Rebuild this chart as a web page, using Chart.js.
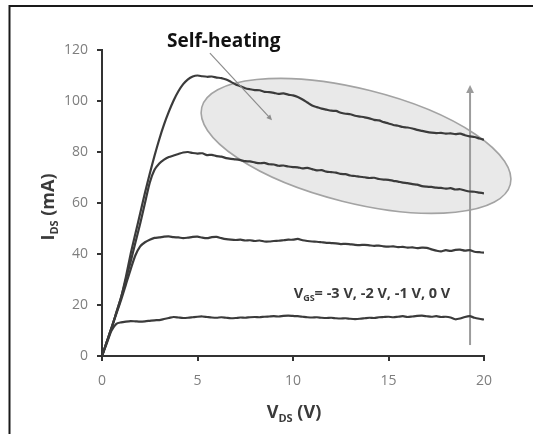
<!DOCTYPE html>
<html>
<head>
<meta charset="utf-8">
<script src="https://cdn.jsdelivr.net/npm/chart.js@4/dist/chart.umd.min.js"></script>
<style>
  body { margin: 0; background: #fff; }
  canvas { display: block; }
</style>
</head>
<body>
<canvas id="ivChart" width="533" height="434"></canvas>
<script>
// V_DS sweep (V)
const vds = [
  0, 0.25, 0.5, 0.75, 1, 1.25, 1.5, 1.75, 2, 2.25, 2.5, 2.75, 3, 3.25, 3.5, 3.75,
  4, 4.25, 4.5, 4.75, 5, 5.25, 5.5, 5.75, 6, 6.25, 6.5, 6.75, 7, 7.25, 7.5, 7.75,
  8, 8.25, 8.5, 8.75, 9, 9.25, 9.5, 9.75, 10, 10.25, 10.5, 10.75, 11, 11.25, 11.5, 11.75,
  12, 12.25, 12.5, 12.75, 13, 13.25, 13.5, 13.75, 14, 14.25, 14.5, 14.75, 15, 15.25, 15.5, 15.75,
  16, 16.25, 16.5, 16.75, 17, 17.25, 17.5, 17.75, 18, 18.25, 18.5, 18.75, 19, 19.25, 19.5, 19.75, 20,
];

// I_DS (mA) for each gate voltage
const ids0V = [
  0, 5.5, 11, 17, 23, 31, 40, 48, 56, 64, 71.5, 78.5, 85, 90.8, 95.8, 100.2,
  103.8, 106.6, 108.5, 109.6, 110, 109.7, 109.5, 109.6, 109.2, 109, 108.4, 107.5, 106.5, 105.8, 105, 104.6,
  104.3, 104.2, 103.6, 103.5, 103.2, 102.8, 103, 102.5, 102.2, 101.6, 100.6, 99.4, 98.2, 97.6, 97, 96.6,
  96.2, 96.1, 95.4, 95, 94.8, 94.2, 93.9, 93.6, 93.2, 92.6, 92.4, 91.7, 91.2, 90.6, 90.3, 89.8,
  89.6, 89.2, 88.7, 88.3, 87.9, 87.6, 87.4, 87.5, 87.2, 87.3, 87, 87.2, 86.6, 86.1, 85.9, 85.3, 84.8,
];
const idsM1V = [
  0, 5.5, 11, 17, 23, 30, 37, 44.5, 52, 60, 68, 73, 75.5, 77, 78, 78.6,
  79.2, 79.8, 80, 79.6, 79.4, 79.5, 78.8, 78.9, 78.4, 78.2, 77.6, 77.3, 77.1, 76.8, 76.4, 76.3,
  75.9, 75.6, 75.7, 75.2, 75.1, 74.6, 74.7, 74.3, 74.1, 74, 73.6, 73.8, 73.3, 72.8, 72.9, 72.3,
  72.1, 71.9, 71.4, 71.3, 70.8, 70.6, 70.3, 70.1, 69.8, 69.9, 69.4, 69.2, 69.1, 68.7, 68.4, 68,
  67.8, 67.4, 67.2, 66.6, 66.4, 66.3, 66, 65.9, 65.6, 65.8, 65.3, 65.4, 64.9, 64.5, 64.4, 64.1, 63.8,
];
const idsM2V = [
  0, 5.5, 11, 16.5, 22, 28, 34, 39.5, 43, 44.6, 45.6, 46.3, 46.5, 46.8, 46.9, 46.6,
  46.5, 46.2, 46.4, 46.7, 46.8, 46.4, 46.2, 46.6, 46.7, 46.2, 45.8, 45.6, 45.5, 45.6, 45.3, 45.4,
  45.1, 45.3, 44.9, 44.9, 45.1, 45.2, 45.4, 45.6, 45.6, 45.9, 45.4, 45.1, 44.9, 44.8, 44.6, 44.4,
  44.3, 44.2, 43.9, 44, 43.8, 43.6, 43.5, 43.6, 43.4, 43.2, 43.3, 43, 42.9, 43, 42.7, 42.8,
  42.5, 42.6, 42.3, 42.5, 42.4, 41.8, 41.3, 41, 41.5, 41.2, 41.6, 41.7, 41.3, 41.5, 40.9, 40.7, 40.5,
];
const idsM3V = [
  0, 5, 10, 12.6, 13.2, 13.5, 13.7, 13.6, 13.5, 13.6, 13.8, 14, 14.1, 14.5, 14.9, 15.3,
  15.1, 14.9, 15, 15.2, 15.4, 15.5, 15.3, 15.1, 15, 15.2, 15, 14.8, 14.9, 15.1, 15, 15.2,
  15.3, 15.2, 15.4, 15.5, 15.6, 15.5, 15.7, 15.8, 15.7, 15.6, 15.4, 15.2, 15.1, 15.2, 15, 14.9,
  15, 14.8, 14.7, 14.8, 14.6, 14.5, 14.6, 14.8, 15, 14.9, 15.2, 15.3, 15.4, 15.2, 15.4, 15.6,
  15.3, 15.5, 15.7, 15.8, 15.6, 15.4, 15.6, 15.3, 15.4, 15.1, 14.4, 14.7, 15.3, 15.6, 15, 14.6, 14.3,
];

const xTicks = [0, 5, 10, 15, 20];
const yTicks = [0, 20, 40, 60, 80, 100, 120];

const curveColor = "#3b3b3b";
const axisColor = "#333333";
const labelGray = "#7e7e7e";

function series(values) {
  return vds.map((v, i) => ({ x: v, y: values[i] }));
}

// text with subscripts: parts = [[text, isSub], ...]
function drawParts(ctx, parts, x, y, size, color, align) {
  const mainFont = "bold " + size + "px 'Open Sans'";
  const subFont = "bold " + Math.round(size * 0.62) + "px 'Open Sans'";
  let total = 0;
  parts.forEach(([t, sub]) => {
    ctx.font = sub ? subFont : mainFont;
    total += ctx.measureText(t).width;
  });
  let cx = align === "center" ? x - total / 2 : x;
  ctx.fillStyle = color;
  ctx.textBaseline = "alphabetic";
  ctx.textAlign = "left";
  parts.forEach(([t, sub]) => {
    ctx.font = sub ? subFont : mainFont;
    ctx.fillText(t, cx, sub ? y + size * 0.22 : y);
    cx += ctx.measureText(t).width;
  });
}

function arrow(ctx, x1, y1, x2, y2, color, width, head) {
  const ang = Math.atan2(y2 - y1, x2 - x1);
  ctx.save();
  ctx.strokeStyle = color;
  ctx.fillStyle = color;
  ctx.lineWidth = width;
  ctx.beginPath();
  ctx.moveTo(x1, y1);
  ctx.lineTo(x2 - Math.cos(ang) * head * 0.8, y2 - Math.sin(ang) * head * 0.8);
  ctx.stroke();
  ctx.beginPath();
  ctx.moveTo(x2, y2);
  ctx.lineTo(x2 - head * Math.cos(ang - 0.45), y2 - head * Math.sin(ang - 0.45));
  ctx.lineTo(x2 - head * Math.cos(ang + 0.45), y2 - head * Math.sin(ang + 0.45));
  ctx.closePath();
  ctx.fill();
  ctx.restore();
}

const decorations = {
  id: "decorations",
  beforeDatasetsDraw(chart) {
    const { ctx, scales: { x, y } } = chart;
    // self-heating region
    ctx.save();
    ctx.beginPath();
    ctx.ellipse(x.getPixelForValue(13.3), y.getPixelForValue(82.4), 159, 57, 14 * Math.PI / 180, 0, Math.PI * 2);
    ctx.fillStyle = "#e9e9e9";
    ctx.fill();
    ctx.lineWidth = 1.6;
    ctx.strokeStyle = "#a3a3a3";
    ctx.stroke();
    ctx.restore();
    // increasing V_GS arrow
    arrow(ctx, x.getPixelForValue(19.27), y.getPixelForValue(4.3),
      x.getPixelForValue(19.27), y.getPixelForValue(106.3), "#9c9c9c", 2, 9);
  },
  afterDatasetsDraw(chart) {
    const { ctx, scales: { x, y } } = chart;
    arrow(ctx, x.getPixelForValue(5.65), y.getPixelForValue(118.8),
      x.getPixelForValue(8.9), y.getPixelForValue(92.5), "#8c8c8c", 1.2, 6);

    ctx.save();
    ctx.font = "bold 19px 'Open Sans'";
    ctx.fillStyle = "#111";
    ctx.textAlign = "left";
    ctx.textBaseline = "alphabetic";
    ctx.fillText("Self-heating", 167, 47);
    ctx.restore();

    drawParts(ctx, [["V", false], ["GS", true], ["= -3 V, -2 V, -1 V, 0 V", false]],
      372, 298, 14.5, "#3a3a3a", "center");

    // axis titles
    drawParts(ctx, [["V", false], ["DS", true], [" (V)", false]], 294, 418, 18, "#3a3a3a", "center");
    ctx.save();
    ctx.translate(54, 207);
    ctx.rotate(-Math.PI / 2);
    drawParts(ctx, [["I", false], ["DS", true], [" (mA)", false]], 0, 0, 18, "#3a3a3a", "center");
    ctx.restore();

    // picture frame
    ctx.save();
    ctx.strokeStyle = "#1a1a1a";
    ctx.lineWidth = 2;
    ctx.beginPath();
    ctx.moveTo(9.5, 434);
    ctx.lineTo(9.5, 6);
    ctx.lineTo(533, 6);
    ctx.stroke();
    ctx.restore();
  },
};

const lineStyle = {
  borderColor: curveColor,
  borderWidth: 2.2,
  pointRadius: 0,
  tension: 0.25,
  fill: false,
};

new Chart(document.getElementById("ivChart"), {
  type: "line",
  data: {
    datasets: [
      { label: "0 V", data: series(ids0V), ...lineStyle },
      { label: "-1 V", data: series(idsM1V), ...lineStyle },
      { label: "-2 V", data: series(idsM2V), ...lineStyle },
      { label: "-3 V", data: series(idsM3V), ...lineStyle },
    ],
  },
  options: {
    responsive: false,
    animation: false,
    devicePixelRatio: 1,
    layout: { padding: { left: 0, top: 50, right: 49, bottom: 0 } },
    plugins: { legend: { display: false }, tooltip: { enabled: false } },
    scales: {
      x: {
        type: "linear",
        min: 0,
        max: 20,
        afterBuildTicks: (s) => { s.ticks = xTicks.map((v) => ({ value: v })); },
        afterFit: (s) => { s.height = 78; },
        ticks: { color: labelGray, font: { family: "Open Sans", size: 14 }, padding: 12 },
        grid: { drawOnChartArea: false, color: axisColor, lineWidth: 2, tickLength: 5 },
        border: { color: axisColor, width: 2 },
      },
      y: {
        min: 0,
        max: 120,
        afterBuildTicks: (s) => { s.ticks = yTicks.map((v) => ({ value: v })); },
        afterFit: (s) => { s.width = 102; },
        ticks: { color: labelGray, font: { family: "Open Sans", size: 14 }, padding: 9 },
        grid: { drawOnChartArea: false, color: axisColor, lineWidth: 2, tickLength: 5 },
        border: { color: axisColor, width: 2 },
      },
    },
  },
  plugins: [decorations],
});
</script>
</body>
</html>
